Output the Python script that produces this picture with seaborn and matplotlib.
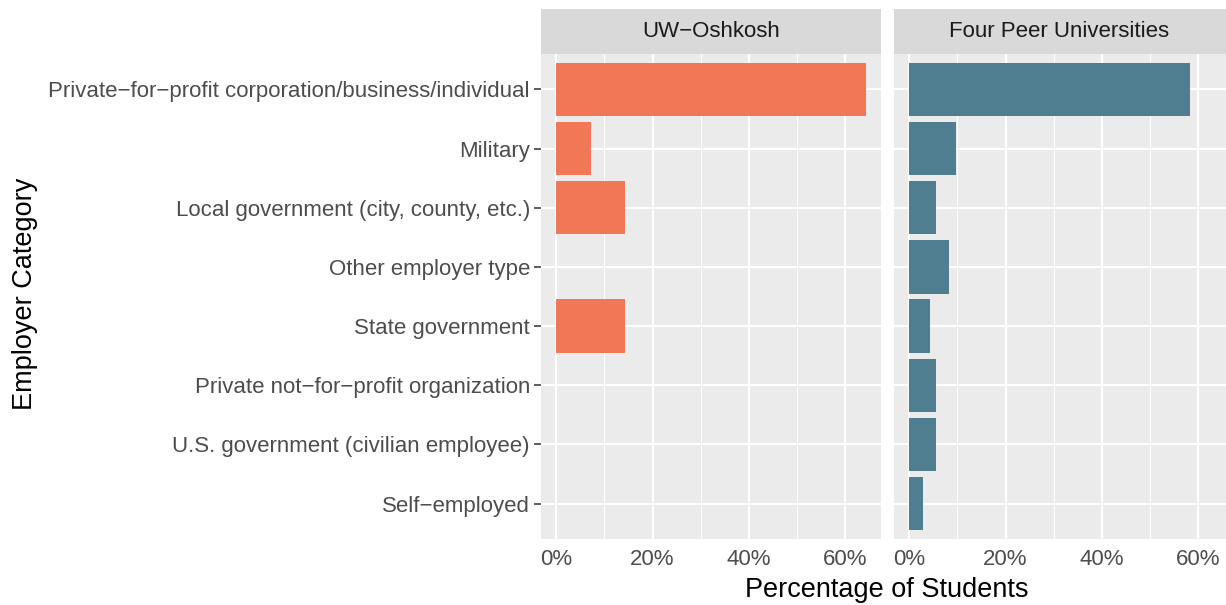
import matplotlib
matplotlib.use('Agg')
import matplotlib.pyplot as plt
import seaborn as sns
import pandas as pd
from matplotlib.ticker import FixedLocator, MultipleLocator, FuncFormatter

categories = [
    'Private−for−profit corporation/business/individual',
    'Military',
    'Local government (city, county, etc.)',
    'Other employer type',
    'State government',
    'Private not−for−profit organization',
    'U.S. government (civilian employee)',
    'Self−employed',
]
uw_oshkosh = [64.3, 7.1, 14.3, 0, 14.3, 0, 0, 0]
peer_universities = [58.3, 9.7, 5.6, 8.3, 4.2, 5.6, 5.6, 2.8]
panels = ['UW−Oshkosh', 'Four Peer Universities']
panel_colors = ['#F27757', '#507E91']
x_ticks = [0, 20, 40, 60]

df = pd.DataFrame({
    'category': categories * 2,
    'pct': uw_oshkosh + peer_universities,
    'group': [panels[0]] * len(categories) + [panels[1]] * len(categories),
})

sns.set_style('white')
plt.rcParams['font.family'] = ['Liberation Sans', 'DejaVu Sans']

W, H = 1226, 605
fig = plt.figure(figsize=(W / 100, H / 100), dpi=100)


def box(x0, y0, x1, y1):
    return [x0 / W, 1 - y1 / H, (x1 - x0) / W, (y1 - y0) / H]


panel_x = [(541, 881), (894, 1234)]
for i, (name, col) in enumerate(zip(panels, panel_colors)):
    x0, x1 = panel_x[i]
    ax = fig.add_axes(box(x0, 54, x1, 539))
    sub = df[df['group'] == name]
    sns.barplot(data=sub, x='pct', y='category', order=categories, color=col,
                saturation=1, width=0.9, linewidth=0, ax=ax)
    ax.set_facecolor('#EBEBEB')
    ax.set_xlim(-3.2, 67.5)
    ax.set_ylim(len(categories) - 0.4, -0.6)
    ax.xaxis.set_major_locator(FixedLocator(x_ticks))
    ax.xaxis.set_minor_locator(MultipleLocator(10))
    ax.xaxis.set_major_formatter(FuncFormatter(lambda v, p: f'{v:.0f}%'))
    ax.set_axisbelow(True)
    ax.grid(True, which='major', color='white', lw=1.5)
    ax.grid(True, which='minor', axis='x', color='white', lw=0.75)
    for s in ax.spines.values():
        s.set_visible(False)
    ax.tick_params(axis='x', which='major', length=5, width=1.1, color='#333333',
                   labelsize=16, labelcolor='#4D4D4D', pad=2)
    ax.tick_params(axis='x', which='minor', length=0)
    ax.set_xlabel('')
    ax.set_ylabel('')
    if i == 0:
        ax.tick_params(axis='y', length=5, width=1.1, color='#333333',
                       labelsize=16, labelcolor='#4D4D4D', pad=3, left=True)
    else:
        ax.tick_params(axis='y', length=0, labelleft=False)

    sax = fig.add_axes(box(x0, 9, x1, 54))
    sax.set_facecolor('#D9D9D9')
    sax.set_xticks([])
    sax.set_yticks([])
    for s in sax.spines.values():
        s.set_visible(False)
    sax.text(0.5 if i == 0 else (1059 - x0) / (x1 - x0), 0.5, name,
             ha='center', va='center', fontsize=16, color='#1A1A1A',
             transform=sax.transAxes)

fig.text(887 / W, 1 - 590 / H, 'Percentage of Students', ha='center', va='center',
         fontsize=19.5, color='black')
fig.text(25 / W, 1 - 294 / H, 'Employer Category', ha='center', va='center',
         rotation=90, fontsize=19.5, color='black')

fig.savefig('out.png', dpi=100)
